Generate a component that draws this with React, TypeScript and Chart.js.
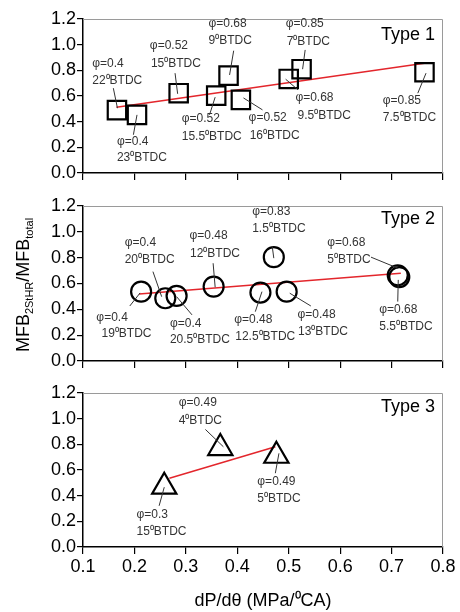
import React, { useEffect, useRef } from 'react';
import { Chart, registerables } from 'chart.js';

Chart.register(...registerables);

const FONT = "'Liberation Sans', Arial, sans-serif";

// axis ticks
const xTickLabels = ['0.1', '0.2', '0.3', '0.4', '0.5', '0.6', '0.7', '0.8'];
const yTickLabels = ['0.0', '0.2', '0.4', '0.6', '0.8', '1.0', '1.2'];

// Type 1 (squares)
const type1X = [0.166, 0.205, 0.286, 0.359, 0.383, 0.407, 0.5, 0.525, 0.764];
const type1Y = [0.49, 0.453, 0.622, 0.603, 0.759, 0.57, 0.733, 0.809, 0.785];
const trend1X = [0.165, 0.764];
const trend1Y = [0.513, 0.855];

// Type 2 (circles)
const type2X = [0.213, 0.26, 0.282, 0.354, 0.445, 0.471, 0.496, 0.712, 0.715];
const type2Y = [0.537, 0.486, 0.504, 0.576, 0.53, 0.804, 0.537, 0.664, 0.65];
const trend2X = [0.209, 0.718];
const trend2Y = [0.519, 0.68];

// Type 3 (triangles)
const type3X = [0.258, 0.367, 0.476];
const type3Y = [0.47, 0.771, 0.711];
const trend3X = [0.268, 0.474];
const trend3Y = [0.536, 0.781];

type Note = { x: number; y: number; text: string };
type Leader = [number, number, number, number];

const notes1: Note[] = [
  { x: 0.118, y: 0.855, text: 'φ=0.4' }, { x: 0.118, y: 0.72, text: '22⁰BTDC' },
  { x: 0.23, y: 0.99, text: 'φ=0.52' }, { x: 0.232, y: 0.855, text: '15⁰BTDC' },
  { x: 0.166, y: 0.246, text: 'φ=0.4' }, { x: 0.166, y: 0.121, text: '23⁰BTDC' },
  { x: 0.292, y: 0.42, text: 'φ=0.52' }, { x: 0.292, y: 0.285, text: '15.5⁰BTDC' },
  { x: 0.344, y: 1.166, text: 'φ=0.68' }, { x: 0.344, y: 1.031, text: '9⁰BTDC' },
  { x: 0.422, y: 0.428, text: 'φ=0.52' }, { x: 0.424, y: 0.29, text: '16⁰BTDC' },
  { x: 0.494, y: 1.161, text: 'φ=0.85' }, { x: 0.496, y: 1.023, text: '7⁰BTDC' },
  { x: 0.513, y: 0.583, text: 'φ=0.68' }, { x: 0.517, y: 0.446, text: '9.5⁰BTDC' },
  { x: 0.683, y: 0.565, text: 'φ=0.85' }, { x: 0.683, y: 0.428, text: '7.5⁰BTDC' },
];
const leaders1: Leader[] = [
  [0.159, 0.661, 0.167, 0.505], [0.279, 0.778, 0.284, 0.617], [0.205, 0.453, 0.198, 0.298],
  [0.357, 0.591, 0.346, 0.453], [0.393, 0.953, 0.385, 0.764], [0.412, 0.585, 0.449, 0.492],
  [0.532, 0.959, 0.527, 0.809], [0.494, 0.731, 0.518, 0.648], [0.767, 0.778, 0.751, 0.622],
];

const notes2: Note[] = [
  { x: 0.181, y: 0.917, text: 'φ=0.4' }, { x: 0.181, y: 0.783, text: '20⁰BTDC' },
  { x: 0.307, y: 0.969, text: 'φ=0.48' }, { x: 0.308, y: 0.829, text: '12⁰BTDC' },
  { x: 0.126, y: 0.339, text: 'φ=0.4' }, { x: 0.136, y: 0.209, text: '19⁰BTDC' },
  { x: 0.269, y: 0.292, text: 'φ=0.4' }, { x: 0.269, y: 0.163, text: '20.5⁰BTDC' },
  { x: 0.394, y: 0.323, text: 'φ=0.48' }, { x: 0.396, y: 0.188, text: '12.5⁰BTDC' },
  { x: 0.429, y: 1.157, text: 'φ=0.83' }, { x: 0.429, y: 1.021, text: '1.5⁰BTDC' },
  { x: 0.517, y: 0.357, text: 'φ=0.48' }, { x: 0.518, y: 0.227, text: '13⁰BTDC' },
  { x: 0.575, y: 0.917, text: 'φ=0.68' }, { x: 0.575, y: 0.783, text: '5⁰BTDC' },
  { x: 0.676, y: 0.401, text: 'φ=0.68' }, { x: 0.676, y: 0.266, text: '5.5⁰BTDC' },
];
const leaders2: Leader[] = [
  [0.236, 0.692, 0.253, 0.498], [0.353, 0.757, 0.357, 0.571], [0.211, 0.527, 0.191, 0.426],
  [0.282, 0.498, 0.312, 0.357], [0.448, 0.537, 0.435, 0.382], [0.468, 0.886, 0.471, 0.796],
  [0.502, 0.525, 0.543, 0.426], [0.66, 0.804, 0.712, 0.719], [0.713, 0.628, 0.712, 0.46],
];

const notes3: Note[] = [
  { x: 0.286, y: 1.123, text: 'φ=0.49' }, { x: 0.286, y: 0.988, text: '4⁰BTDC' },
  { x: 0.439, y: 0.509, text: 'φ=0.49' }, { x: 0.439, y: 0.373, text: '5⁰BTDC' },
  { x: 0.204, y: 0.251, text: 'φ=0.3' }, { x: 0.204, y: 0.121, text: '15⁰BTDC' },
];
const leaders3: Leader[] = [
  [0.338, 0.916, 0.373, 0.781], [0.481, 0.73, 0.474, 0.575], [0.258, 0.466, 0.248, 0.321],
];

interface PanelProps {
  xs: number[];
  ys: number[];
  trendX: number[];
  trendY: number[];
  pointStyle: 'rect' | 'circle' | 'triangle';
  radius: number;
  notes: Note[];
  leaders: Leader[];
  typeText: string;
  typeY: number;
  top: number;
  height: number;
  padTop: number;
  xHeight: number;
  bottomAxis?: boolean;
  yTitle?: boolean;
}

const Panel: React.FC<PanelProps> = (p) => {
  const canvasRef = useRef<HTMLCanvasElement>(null);

  useEffect(() => {
    if (!canvasRef.current) return;

    const extras = {
      id: 'extras',
      afterDatasetsDraw(chart: Chart) {
        const { ctx, chartArea } = chart;
        const xs = chart.scales.x;
        const ys = chart.scales.y;
        ctx.save();
        // grey top/right frame
        ctx.strokeStyle = '#9a9a9a';
        ctx.lineWidth = 1;
        ctx.beginPath();
        ctx.moveTo(chartArea.left, chartArea.top + 0.5);
        ctx.lineTo(chartArea.right - 0.5, chartArea.top + 0.5);
        ctx.lineTo(chartArea.right - 0.5, chartArea.bottom);
        ctx.stroke();
        // leader lines
        ctx.strokeStyle = '#333';
        ctx.lineWidth = 1;
        p.leaders.forEach(([x1, y1, x2, y2]) => {
          ctx.beginPath();
          ctx.moveTo(xs.getPixelForValue(x1), ys.getPixelForValue(y1));
          ctx.lineTo(xs.getPixelForValue(x2), ys.getPixelForValue(y2));
          ctx.stroke();
        });
        // notes
        ctx.fillStyle = '#333';
        ctx.font = `12px ${FONT}`;
        ctx.textAlign = 'left';
        ctx.textBaseline = 'middle';
        p.notes.forEach((n) => {
          ctx.fillText(n.text, xs.getPixelForValue(n.x), ys.getPixelForValue(n.y));
        });
        // type label
        ctx.fillStyle = '#000';
        ctx.font = `18px ${FONT}`;
        ctx.textAlign = 'right';
        ctx.fillText(p.typeText, chartArea.right - 8, ys.getPixelForValue(p.typeY));
        ctx.restore();
      },
      afterDraw(chart: Chart) {
        if (!p.yTitle) return;
        const ctx = chart.ctx;
        const parts: [string, number, number][] = [
          ['MFB', 18, 0],
          ['2StHR', 11, 4],
          ['/MFB', 18, 0],
          ['total', 11, 4],
        ];
        ctx.save();
        let total = 0;
        parts.forEach(([t, s]) => {
          ctx.font = `${s}px ${FONT}`;
          total += ctx.measureText(t).width;
        });
        ctx.translate(29, 95);
        ctx.rotate(-Math.PI / 2);
        ctx.fillStyle = '#000';
        ctx.textAlign = 'left';
        ctx.textBaseline = 'alphabetic';
        let cx = -total / 2;
        parts.forEach(([t, s, dy]) => {
          ctx.font = `${s}px ${FONT}`;
          ctx.fillText(t, cx, dy);
          cx += ctx.measureText(t).width;
        });
        ctx.restore();
      },
    };

    const chart = new Chart(canvasRef.current, {
      type: 'scatter',
      data: {
        datasets: [
          {
            data: p.xs.map((x, i) => ({ x, y: p.ys[i] })),
            pointStyle: p.pointStyle,
            pointRadius: p.radius,
            pointBorderWidth: 2.2,
            pointBorderColor: '#000',
            pointBackgroundColor: 'rgba(0,0,0,0)',
            showLine: false,
          },
          {
            data: p.trendX.map((x, i) => ({ x, y: p.trendY[i] })),
            showLine: true,
            borderColor: '#e3262c',
            borderWidth: 1.5,
            pointRadius: 0,
          },
        ],
      },
      options: {
        responsive: true,
        maintainAspectRatio: false,
        animation: false,
        layout: { padding: { top: p.padTop, right: 17, left: 0, bottom: 0 } },
        plugins: { legend: { display: false }, tooltip: { enabled: false } },
        scales: {
          x: {
            type: 'linear',
            min: 0.1,
            max: 0.8,
            ticks: {
              stepSize: 0.1,
              autoSkip: false,
              maxRotation: 0,
              padding: 2,
              color: p.bottomAxis ? '#000' : 'rgba(0,0,0,0)',
              font: { size: 18, family: FONT },
              callback: (v, i) => xTickLabels[i] ?? Number(v).toFixed(1),
            },
            grid: { drawOnChartArea: false, drawTicks: true, tickLength: 7, color: '#000', lineWidth: 1.2 },
            border: { color: '#000', width: 1.5 },
            title: {
              display: !!p.bottomAxis,
              text: 'dP/dθ (MPa/⁰CA)',
              color: '#000',
              font: { size: 18, family: FONT },
              padding: { top: 0, bottom: 0 },
            },
            afterFit: (s) => {
              s.height = p.xHeight;
            },
          },
          y: {
            min: 0,
            max: 1.2,
            ticks: {
              stepSize: 0.2,
              padding: 1,
              color: '#000',
              font: { size: 18, family: FONT },
              callback: (v, i) => yTickLabels[i] ?? Number(v).toFixed(1),
            },
            grid: { drawOnChartArea: false, drawTicks: true, tickLength: 6, color: '#000', lineWidth: 1.2 },
            border: { color: '#000', width: 1.5 },
            afterFit: (s) => {
              s.width = 83;
            },
          },
        },
      },
      plugins: [extras],
    });

    return () => {
      chart.destroy();
    };
  }, [p]);

  return (
    <div style={{ position: 'absolute', left: 0, top: p.top, width: 460, height: p.height }}>
      <canvas ref={canvasRef} />
    </div>
  );
};

const App: React.FC = () => {
  return (
    <div style={{ position: 'absolute', left: 0, top: 0, width: 460, height: 612, background: '#fff' }}>
      <Panel
        xs={type1X} ys={type1Y} trendX={trend1X} trendY={trend1Y}
        pointStyle="rect" radius={13} notes={notes1} leaders={leaders1}
        typeText="Type 1" typeY={1.075}
        top={0} height={190} padTop={19} xHeight={17}
      />
      <Panel
        xs={type2X} ys={type2Y} trendX={trend2X} trendY={trend2Y}
        pointStyle="circle" radius={10} notes={notes2} leaders={leaders2}
        typeText="Type 2" typeY={1.098}
        top={190} height={186} padTop={16} xHeight={15} yTitle
      />
      <Panel
        xs={type3X} ys={type3Y} trendX={trend3X} trendY={trend3Y}
        pointStyle="triangle" radius={14} notes={notes3} leaders={leaders3}
        typeText="Type 3" typeY={1.087}
        top={376} height={236} padTop={17} xHeight={65} bottomAxis
      />
    </div>
  );
};

export default App;
